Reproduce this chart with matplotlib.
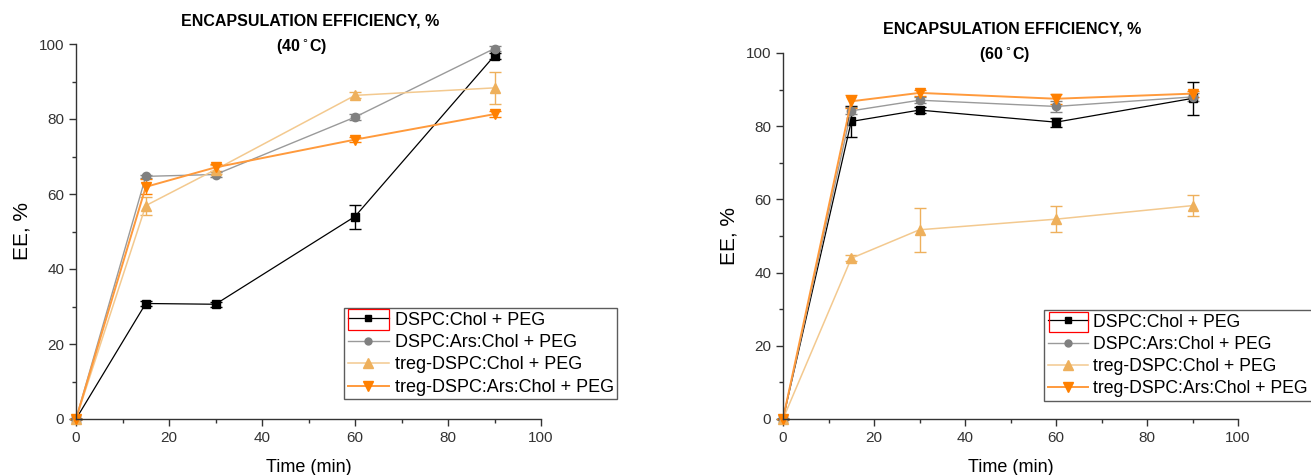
import matplotlib
matplotlib.use("Agg")
import matplotlib.pyplot as plt
from matplotlib.ticker import MultipleLocator
from matplotlib.lines import Line2D
from matplotlib.patches import Rectangle

plt.rcParams['font.family'] = ['Liberation Sans', 'DejaVu Sans']

time = [0, 15, 30, 60, 90]
labels = ["DSPC:Chol + PEG", "DSPC:Ars:Chol + PEG", "treg-DSPC:Chol + PEG", "treg-DSPC:Ars:Chol + PEG"]

# 40 °C
ee40_dspc_chol = [0, 30.8, 30.6, 54.0, 96.9]
err40_dspc_chol = [0, 0.6, 0.6, 3.2, 0.8]
ee40_dspc_ars = [0, 64.7, 65.2, 80.5, 98.8]
err40_dspc_ars = [0, 0.5, 0.8, 0.8, 0.6]
ee40_treg_chol = [0, 56.9, 66.5, 86.3, 88.3]
err40_treg_chol = [0, 2.4, 1.2, 0.8, 4.2]
ee40_treg_ars = [0, 61.9, 67.1, 74.5, 81.3]
err40_treg_ars = [0, 2.0, 1.0, 0.6, 0.8]

# 60 °C
ee60_dspc_chol = [0, 81.3, 84.4, 81.1, 87.6]
err60_dspc_chol = [0, 4.2, 0.8, 1.2, 4.5]
ee60_dspc_ars = [0, 84.2, 87.1, 85.4, 88.0]
err60_dspc_ars = [0, 1.0, 0.8, 1.5, 1.0]
ee60_treg_chol = [0, 43.9, 51.7, 54.6, 58.3]
err60_treg_chol = [0, 0.8, 6.0, 3.5, 2.8]
ee60_treg_ars = [0, 86.8, 89.1, 87.5, 88.9]
err60_treg_ars = [0, 1.8, 0.8, 1.3, 0.8]

styles = [
    dict(color="black", mfc="black", mec="black", marker="s", ms=6, lw=0.9, ecolor="black"),
    dict(color="#9a9a9a", mfc="#808080", mec="#808080", marker="o", ms=6, lw=1.0, ecolor="#808080"),
    dict(color="#f3c98f", mfc="#eeb05c", mec="#eeb05c", marker="^", ms=7.5, lw=1.1, ecolor="#eeb05c"),
    dict(color="#ff9a3c", mfc="#ff8000", mec="#ff8000", marker="v", ms=7.5, lw=1.4, ecolor="#ff8000"),
]
legend_ms = [4.5, 5, 7, 7]

W, H = 1311, 475
fig = plt.figure(figsize=(W / 100, H / 100), dpi=100)
ax1 = fig.add_axes([76 / W, 1 - 419 / H, (541 - 76) / W, (419 - 44) / H])
ax2 = fig.add_axes([783 / W, 1 - 419 / H, (1238 - 783) / W, (419 - 53) / H])

def draw(ax, series, errs, temp, title_xy, sub_xy, leg_box, red_box, leg_fs):
    for y, e, st, lab in zip(series, errs, styles, labels):
        st = dict(st)
        ec = st.pop("ecolor")
        ax.errorbar(time, y, yerr=e, ecolor=ec, elinewidth=1.0, capsize=4,
                    capthick=1.0, label=lab, clip_on=False, **st)
    ax.set_xlim(0, 100)
    ax.set_ylim(0, 100)
    ax.xaxis.set_major_locator(MultipleLocator(20))
    ax.xaxis.set_minor_locator(MultipleLocator(10))
    ax.yaxis.set_major_locator(MultipleLocator(20))
    ax.yaxis.set_minor_locator(MultipleLocator(10))
    ax.tick_params(which="major", direction="out", length=5, width=1, labelsize=11,
                   labelcolor="#333333", color="#333333")
    ax.tick_params(which="minor", direction="out", length=3, width=1, color="#333333")
    ax.spines["top"].set_visible(False)
    ax.spines["right"].set_visible(False)
    for s in ("left", "bottom"):
        ax.spines[s].set_color("#333333")
        ax.spines[s].set_linewidth(1.0)
    ax.set_xlabel("Time (min)", fontsize=13, labelpad=10)
    ax.set_ylabel("EE, %", fontsize=15, labelpad=5)
    fig.text(title_xy[0] / W, 1 - title_xy[1] / H, "ENCAPSULATION EFFICIENCY, %",
             fontsize=11.5, fontweight="bold", ha="center", va="center")
    fig.text(sub_xy[0] / W, 1 - sub_xy[1] / H, "(" + temp + r"$\,^{\circ}$C)",
             fontsize=11.5, fontweight="bold", ha="center", va="center")
    handles = []
    for st, lab, ms in zip(styles, labels, legend_ms):
        handles.append(Line2D([], [], color=st["color"], lw=st["lw"], marker=st["marker"],
                              mfc=st["mfc"], mec=st["mec"], ms=ms, label=lab))
    x0, y0 = leg_box
    leg = ax.legend(handles=handles, loc="upper left",
                    bbox_to_anchor=(x0 / W, 1 - y0 / H),
                    bbox_transform=fig.transFigure, frameon=True, fancybox=False,
                    fontsize=leg_fs, handlelength=2.3, handletextpad=0.3,
                    labelspacing=0.3, borderpad=0.2, borderaxespad=0)
    leg.get_frame().set_edgecolor("#333333")
    leg.get_frame().set_linewidth(1.0)
    rx0, ry0, rx1, ry1 = red_box
    fig.patches.append(Rectangle((rx0 / W, 1 - ry1 / H), (rx1 - rx0) / W, (ry1 - ry0) / H,
                                 transform=fig.transFigure, fill=False,
                                 edgecolor="red", lw=0.9, zorder=10))

draw(ax1, [ee40_dspc_chol, ee40_dspc_ars, ee40_treg_chol, ee40_treg_ars],
     [err40_dspc_chol, err40_dspc_ars, err40_treg_chol, err40_treg_ars],
     "40", (310, 21), (302, 47), (344, 308), (348, 309, 389, 330), 13)
draw(ax2, [ee60_dspc_chol, ee60_dspc_ars, ee60_treg_chol, ee60_treg_ars],
     [err60_dspc_chol, err60_dspc_ars, err60_treg_chol, err60_treg_ars],
     "60", (1012, 29), (1005, 54), (1044, 310), (1049, 312, 1088, 332), 12.7)

fig.savefig("out.png", dpi=100)
